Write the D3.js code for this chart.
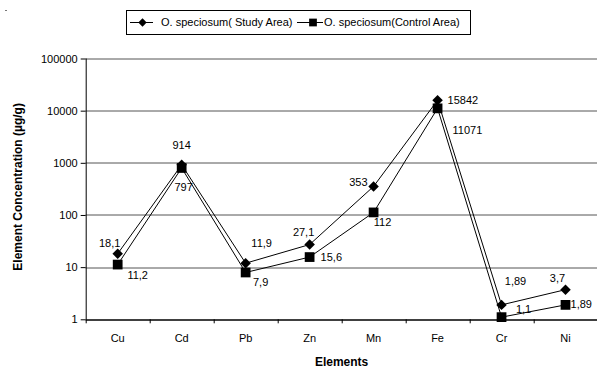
<!DOCTYPE html>
<html>
<head>
<meta charset="utf-8">
<script src="https://cdn.jsdelivr.net/npm/d3@7"></script>
<style>
  body { margin: 0; background: #fff; }
  text { font-family: "Liberation Sans", Arial, sans-serif; }
</style>
</head>
<body>
<svg id="chart"></svg>
<script>
// data
var elements = ["Cu", "Cd", "Pb", "Zn", "Mn", "Fe", "Cr", "Ni"];
var studyArea = [18.1, 914, 11.9, 27.1, 353, 15842, 1.89, 3.7];
var controlArea = [11.2, 797, 7.9, 15.6, 112, 11071, 1.1, 1.89];
var studyLabels = ["18,1", "914", "11,9", "27,1", "353", "15842", "1,89", "3,7"];
var controlLabels = ["11,2", "797", "7,9", "15,6", "112", "11071", "1,1", "1,89"];
var yTicks = [1, 10, 100, 1000, 10000, 100000];
var seriesNames = ["O. speciosum( Study Area)", "O. speciosum(Control Area)"];

// label offsets (dx, dy, anchor) as they were placed by hand in the original
var studyOffsets = [[-8,-11,"middle"],[0,-20,"middle"],[16,-20,"middle"],[-6,-12,"middle"],
                    [-6,-4,"end"],[10,0,"start"],[14,-24,"middle"],[-8,-12,"middle"]];
var controlOffsets = [[20,11,"middle"],[2,19,"middle"],[15,10,"middle"],[11,0,"start"],
                      [9,10,"middle"],[15,22,"start"],[22,-8,"middle"],[5,-1,"start"]];

var screen = { width: 597, height: 369 };
var margins = { top: 58.5, bottom: 49.7, left: 85.7, right: -0.5 };

var drawChart = function()
{
  var graphWidth = screen.width - margins.left - margins.right;
  var graphHeight = screen.height - margins.top - margins.bottom;

  var svg = d3.select("#chart")
              .attr("width", screen.width)
              .attr("height", screen.height);

  var xScale = d3.scaleBand()
                 .domain(elements)
                 .range([0, graphWidth]);

  var yScale = d3.scaleLog()
                 .domain([1, 100000])
                 .range([graphHeight, 0]);

  var plot = svg.append("g")
                .attr("transform", "translate(" + margins.left + "," + margins.top + ")");

  // gridlines
  plot.selectAll(".grid")
      .data(yTicks.slice(1))
      .enter()
      .append("line")
      .attr("x1", 0)
      .attr("x2", graphWidth)
      .attr("y1", function(d) { return Math.round(yScale(d)) + 0.5; })
      .attr("y2", function(d) { return Math.round(yScale(d)) + 0.5; })
      .style("stroke", "#555")
      .style("stroke-width", 1);

  // y axis
  var yAxis = d3.axisLeft(yScale)
                .tickValues(yTicks)
                .tickFormat(d3.format("d"))
                .tickSize(5)
                .tickPadding(3);
  var yAxisGraphic = plot.append("g").call(yAxis);
  yAxisGraphic.select(".domain").remove();
  yAxisGraphic.selectAll("text").style("font-size", "11px").attr("fill", "#000");

  // x axis
  var xAxis = d3.axisBottom(xScale).tickSize(0).tickPadding(15);
  var xAxisGraphic = plot.append("g")
                         .attr("transform", "translate(0," + graphHeight + ")")
                         .call(xAxis);
  xAxisGraphic.select(".domain").remove();
  xAxisGraphic.selectAll("text").style("font-size", "11px").attr("fill", "#000");

  // category boundary ticks
  var bounds = elements.map(function(d) { return xScale(d); }).concat([graphWidth]);
  plot.selectAll(".xtick")
      .data(bounds)
      .enter()
      .append("line")
      .attr("x1", function(d) { return Math.round(d) + 0.5; })
      .attr("x2", function(d) { return Math.round(d) + 0.5; })
      .attr("y1", graphHeight)
      .attr("y2", graphHeight + 4)
      .style("stroke", "#000");

  // axis lines
  plot.append("line")
      .attr("x1", 0.5).attr("x2", 0.5)
      .attr("y1", 0).attr("y2", graphHeight)
      .style("stroke", "#000");
  plot.append("line")
      .attr("x1", 0).attr("x2", graphWidth)
      .attr("y1", Math.round(graphHeight) + 0.5).attr("y2", Math.round(graphHeight) + 0.5)
      .style("stroke", "#000")
      .style("stroke-width", 1.6);

  var cx = function(i) { return xScale(elements[i]) + xScale.bandwidth() / 2; };

  var line = d3.line()
               .x(function(d, i) { return cx(i); })
               .y(function(d) { return yScale(d); });

  [studyArea, controlArea].forEach(function(values)
  {
    plot.append("path")
        .datum(values)
        .attr("d", line)
        .attr("fill", "none")
        .style("stroke", "#000")
        .style("stroke-width", 1);
  });

  var diamond = d3.symbol().type(d3.symbolDiamond2).size(70);
  var square = d3.symbol().type(d3.symbolSquare).size(95);

  plot.selectAll(".study")
      .data(studyArea)
      .enter()
      .append("path")
      .attr("d", diamond)
      .attr("transform", function(d, i) { return "translate(" + cx(i) + "," + yScale(d) + ")"; })
      .attr("fill", "#000");

  plot.selectAll(".control")
      .data(controlArea)
      .enter()
      .append("path")
      .attr("d", square)
      .attr("transform", function(d, i) { return "translate(" + cx(i) + "," + yScale(d) + ")"; })
      .attr("fill", "#000");

  // value labels
  var addLabels = function(values, labels, offsets)
  {
    plot.selectAll(null)
        .data(values)
        .enter()
        .append("text")
        .text(function(d, i) { return labels[i]; })
        .attr("x", function(d, i) { return cx(i) + offsets[i][0]; })
        .attr("y", function(d, i) { return yScale(d) + offsets[i][1]; })
        .attr("dy", "0.35em")
        .attr("text-anchor", function(d, i) { return offsets[i][2]; })
        .style("font-size", "11px")
        .attr("fill", "#000");
  };
  addLabels(studyArea, studyLabels, studyOffsets);
  addLabels(controlArea, controlLabels, controlOffsets);

  // axis titles
  svg.append("text")
     .text("Element Concentration (\u00b5g/g)")
     .attr("transform", "translate(22," + (margins.top + graphHeight / 2 - 2) + ") rotate(-90)")
     .attr("text-anchor", "middle")
     .style("font-size", "12px")
     .style("font-weight", "bold");

  svg.append("text")
     .text("Elements")
     .attr("x", margins.left + graphWidth / 2)
     .attr("y", 366)
     .attr("text-anchor", "middle")
     .style("font-size", "12px")
     .style("font-weight", "bold");

  // legend
  var legend = svg.append("g");
  legend.append("rect")
        .attr("x", 126.5).attr("y", 10.5)
        .attr("width", 344).attr("height", 24)
        .attr("fill", "#fff")
        .style("stroke", "#000");

  var items = [
    { x1: 130, x2: 153, text: 161, name: seriesNames[0] },
    { x1: 297, x2: 323, text: 324, name: seriesNames[1] }
  ];
  items.forEach(function(it, i)
  {
    legend.append("line")
          .attr("x1", it.x1).attr("x2", it.x2)
          .attr("y1", 22.5).attr("y2", 22.5)
          .style("stroke", "#000");
    legend.append("path")
          .attr("d", i == 0 ? d3.symbol().type(d3.symbolDiamond2).size(45) : d3.symbol().type(d3.symbolSquare).size(60))
          .attr("transform", "translate(" + ((it.x1 + it.x2) / 2 + (i == 0 ? 1 : 3)) + ",22.5)")
          .attr("fill", "#000");
    legend.append("text")
          .text(it.name)
          .attr("x", it.text)
          .attr("y", 22.5)
          .attr("dy", "0.35em")
          .style("font-size", "11px");
  });

  // stray mark at top left of the original
  svg.append("rect")
     .attr("x", 5).attr("y", 10)
     .attr("width", 2).attr("height", 1)
     .attr("fill", "#777");
}

drawChart();
</script>
</body>
</html>
